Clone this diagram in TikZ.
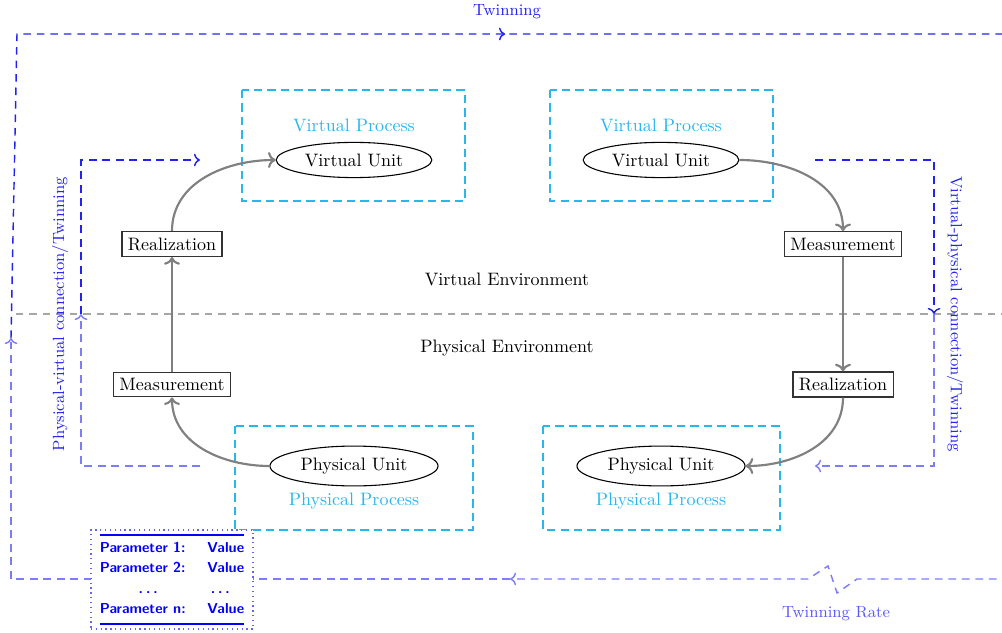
\documentclass[tikz,border=0pt]{standalone}
\usetikzlibrary{shapes.geometric,decorations.markings,arrows.meta}
\definecolor{proc}{RGB}{40,182,236}
\definecolor{twin}{RGB}{35,35,240}
\definecolor{twinlight}{RGB}{125,125,250}
\begin{document}
\begin{tikzpicture}[x=0.5556pt,y=-0.5556pt,
  unit/.style={ellipse,draw=black,line width=0.6pt,fill=white},
  stepbox/.style={rectangle,draw=black!80,line width=0.7pt,fill=white},
  procbox/.style={draw=proc,line width=0.8pt,dash pattern=on 4.5pt off 3pt},
  proclabel/.style={text=proc},
  flow/.style={draw=gray,line width=1.2pt,->},
  twinsolid/.style={draw=twin,line width=0.8pt,dash pattern=on 4.2pt off 3.3pt},
  twinlite/.style={draw=twinlight,line width=0.8pt,dash pattern=on 4.2pt off 3.3pt},
  envline/.style={draw=gray!70,line width=0.8pt,dash pattern=on 4pt off 3.5pt},
  twinlabel/.style={text=twin,font=\small},
  arrowat/.style={postaction={decorate},decoration={markings,mark=at position #1 with {\arrow{>}}}}]
\useasboundingbox (0,0) rectangle (1002,633);
\clip (0,0) rectangle (1002,633);

% environment separator
\coordinate (envL) at (16,314);
\coordinate (envR) at (1010,314);
\draw[envline] (envL) -- (envR);
\node (venv) at (507,279) {Virtual Environment};
\node (penv) at (507,348) {Physical Environment};

% process boxes
\draw[procbox] (242,90) rectangle (465,201);
\draw[procbox] (550,90) rectangle (773,201);
\draw[procbox] (235,426) rectangle (473,530);
\draw[procbox] (543,426) rectangle (780,530);
\node[proclabel] (vpL) at (354,125) {Virtual Process};
\node[proclabel] (vpR) at (661,125) {Virtual Process};
\node[proclabel] (ppL) at (354,501) {Physical Process};
\node[proclabel] (ppR) at (661,501) {Physical Process};

% units
\node[unit] (vuL) at (354,160) {Virtual Unit};
\node[unit] (vuR) at (661,160) {Virtual Unit};
\node[unit] (puL) at (354,466) {Physical Unit};
\node[unit] (puR) at (661,466) {Physical Unit};

% steps
\node[stepbox] (realL) at (172,244) {Realization};
\node[stepbox] (measL) at (172,384.5) {Measurement};
\node[stepbox] (measR) at (843,244) {Measurement};
\node[stepbox] (realR) at (843,384.5) {Realization};

% flows
\draw[flow] (puL.west) to[out=180,in=-90] (measL.south);
\draw[flow] (measL.north) -- (realL.south);
\draw[flow] (realL.north) to[out=90,in=180] (vuL.west);
\draw[flow] (vuR.east) to[out=0,in=90] (measR.north);
\draw[flow] (measR.south) -- (realR.north);
\draw[flow] (realR.south) to[out=-90,in=0] (puR.east);

% left inner twinning loop
\coordinate (liB) at (200,466);
\coordinate (liBL) at (81,466);
\coordinate (liM) at (81,314);
\coordinate (liTL) at (81,160);
\coordinate (liT) at (200,160);
\draw[twinlite,->] (liB) -- (liBL) -- (liM);
\draw[twinsolid,->] (liM) -- (liTL) -- (liT);
\node[twinlabel,rotate=90] (lilab) at (60,314) {Physical-virtual connection/Twinning};

% right inner twinning loop
\coordinate (riT) at (815,160);
\coordinate (riTR) at (934,160);
\coordinate (riM) at (934,314);
\coordinate (riBR) at (934,466);
\coordinate (riB) at (815,466);
\draw[twinsolid,->] (riT) -- (riTR) -- (riM);
\draw[twinlite,->] (riM) -- (riBR) -- (riB);
\node[twinlabel,rotate=-90] (rilab) at (955,314) {Virtual-physical connection/Twinning};

% outer twinning loop
\coordinate (oR1) at (1010,579);
\coordinate (z1) at (857,579);
\coordinate (z2) at (837,593);
\coordinate (z3) at (828,566);
\coordinate (z4) at (808,579);
\coordinate (oBM) at (510,579);
\coordinate (oBL) at (11,579);
\coordinate (oLM) at (11,338);
\coordinate (oTL) at (17,34);
\coordinate (oR2) at (1010,34);
\draw[twinlite,->] (oR1) -- (z1) -- (z2) -- (z3) -- (z4) -- (oBM);
\draw[twinlite,->] (oBM) -- (oBL) -- (oLM);
\draw[twinsolid,arrowat=0.6107] (oLM) -- (oTL) -- (oR2);
\node[twinlabel] (twlab) at (507,12) {Twinning};
\node[twinlabel,text=twin!75] (rate) at (836,614) {Twinning Rate};

% parameter table
\node[draw=twin!70,dotted,line width=0.7pt,fill=white,inner xsep=5pt,inner ysep=2.5pt,
      text=blue,font=\footnotesize\sffamily\bfseries] (params) at (172,579.5)
{\renewcommand{\arraystretch}{1.2}\setlength{\arrayrulewidth}{1pt}%
\begin{tabular}{@{}lr@{}}\hline\noalign{\vskip1pt}
Parameter 1: & Value\\
Parameter 2: & Value\\
\multicolumn{1}{c}{.\kern1.6pt.\kern1.6pt.} & \multicolumn{1}{c}{.\kern1.6pt.\kern1.6pt.}\\
Parameter n: & Value\\[1.5pt]\hline
\end{tabular}};
\end{tikzpicture}
\end{document}
